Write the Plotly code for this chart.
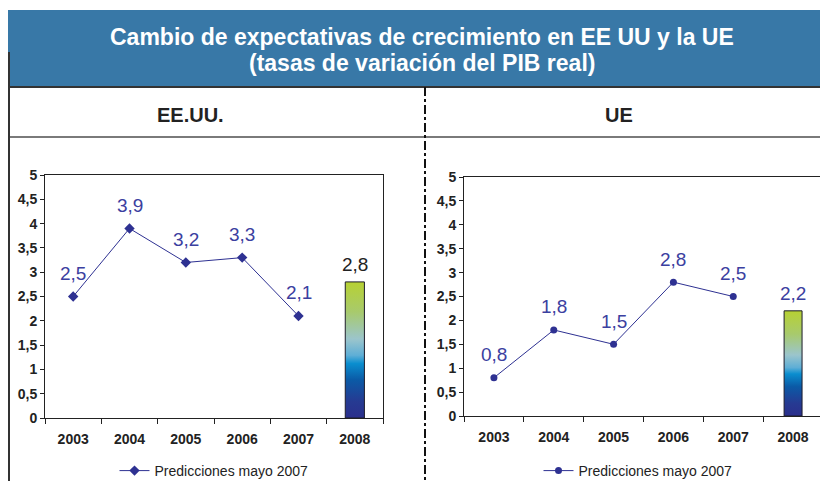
import plotly.graph_objects as go

# ---------------- data ----------------
years = ["2003", "2004", "2005", "2006", "2007", "2008"]
us_forecast = [2.5, 3.9, 3.2, 3.3, 2.1]   # 2003-2007, line
us_2008 = 2.8                             # 2008, bar
eu_forecast = [0.8, 1.8, 1.5, 2.8, 2.5]
eu_2008 = 2.2
y_ticks = [0, 0.5, 1, 1.5, 2, 2.5, 3, 3.5, 4, 4.5, 5]
y_tick_labels = ["0", "0,5", "1", "1,5", "2", "2,5", "3", "3,5", "4", "4,5", "5"]
title_lines = ["Cambio de expectativas de crecimiento en EE UU y la UE",
               "(tasas de variación del PIB real)"]
panel_titles = ["EE.UU.", "UE"]
series_name = "Predicciones mayo 2007"

# ---------------- style ----------------
W, H = 820, 481
FONT = "Liberation Sans, Arial, Helvetica, sans-serif"
LINE_C = "#2e3192"
LABEL_C = "#3b40a0"
AX_C = "#222222"
HEADER_C = "#3878a7"
GRAD = [[0.0, "#2b2f8c"], [0.12, "#263a92"], [0.28, "#0b5aa6"], [0.40, "#0a8ecf"],
        [0.46, "#5eaed6"], [0.58, "#9bc5cc"], [0.78, "#a8ca6c"], [1.0, "#b7d133"]]


def px(x):
    return x / W


def py(y):
    return 1 - y / H


def fmt(v):
    return f"{v:.1f}".replace(".", ",")


panels = [
    dict(vals=us_forecast, bar=us_2008, sym="diamond", msize=8, xd=[px(45), px(383)],
         xr=[-0.5, 5.5], yd=[py(418), py(175)], bw=0.17, mirror_y=True,
         bar_label_c="#222222", legend_x=px(214), title_x=px(190)),
    dict(vals=eu_forecast, bar=eu_2008, sym="circle", msize=7, xd=[px(464), 1.0],
         xr=[-0.5, 5.45], yd=[py(416), py(177)], bw=0.15, mirror_y=False,
         bar_label_c=LABEL_C, legend_x=px(638), title_x=px(619)),
]

fig = go.Figure()
annotations = []
layout_axes = {}

for k, p in enumerate(panels):
    sfx = "" if k == 0 else str(k + 1)
    xa, ya = "x" + sfx, "y" + sfx
    leg = "legend" + sfx
    n = len(p["vals"])
    xs = list(range(n))
    fig.add_trace(go.Scatter(
        x=xs, y=p["vals"], mode="lines+markers", name=series_name,
        line=dict(color=LINE_C, width=1),
        marker=dict(symbol=p["sym"], size=p["msize"], color=LINE_C),
        xaxis=xa, yaxis=ya, legend=leg, showlegend=True, hoverinfo="skip"))
    for i, v in zip(xs, p["vals"]):
        annotations.append(dict(x=i, y=v, xref=xa, yref=ya, text=fmt(v), showarrow=False,
                                yshift=23, font=dict(family=FONT, size=19, color=LABEL_C)))
    # gradient bar for the last year
    bi = len(years) - 1
    bw = p["bw"]
    fig.add_trace(go.Scatter(
        x=[bi - bw, bi + bw, bi + bw, bi - bw, bi - bw],
        y=[0, 0, p["bar"], p["bar"], 0],
        mode="lines", fill="toself",
        fillgradient=dict(type="vertical", colorscale=GRAD),
        line=dict(color="#1c1c2a", width=1),
        xaxis=xa, yaxis=ya, showlegend=False, hoverinfo="skip"))
    annotations.append(dict(x=bi, y=p["bar"], xref=xa, yref=ya, text=fmt(p["bar"]),
                            showarrow=False, yshift=17,
                            font=dict(family=FONT, size=19, color=p["bar_label_c"])))

    layout_axes["xaxis" + sfx] = dict(
        domain=p["xd"], range=p["xr"], anchor=ya,
        tickmode="array", tickvals=list(range(len(years))), ticktext=years, ticks="",
        ticklabelstandoff=8,
        tickfont=dict(family=FONT, size=14, color=AX_C, weight="bold"),
        showline=True, linecolor=AX_C, linewidth=1, mirror=True,
        showgrid=False, zeroline=False, fixedrange=True,
        minor=dict(tickmode="array", tickvals=[i - 0.5 for i in range(len(years) + 1)],
                   ticks="outside", ticklen=5, tickcolor=AX_C, tickwidth=1, showgrid=False))
    layout_axes["yaxis" + sfx] = dict(
        domain=p["yd"], range=[0, 5], anchor=xa,
        tickmode="array", tickvals=y_ticks, ticktext=y_tick_labels,
        ticks="outside", ticklen=4, tickcolor=AX_C,
        tickfont=dict(family=FONT, size=14, color=AX_C, weight="bold"),
        showline=True, linecolor=AX_C, linewidth=1, mirror=p["mirror_y"],
        showgrid=False, zeroline=False, fixedrange=True)
    layout_axes[leg] = dict(
        x=p["legend_x"], y=py(471), xanchor="center", yanchor="middle",
        xref="container", yref="container",
        orientation="h", bgcolor="rgba(0,0,0,0)", itemwidth=30,
        font=dict(family=FONT, size=14, color=AX_C))
    annotations.append(dict(x=p["title_x"], y=py(115), xref="paper", yref="paper",
                            text=panel_titles[k], showarrow=False, xanchor="center",
                            yanchor="middle",
                            font=dict(family=FONT, size=20, color="#222222", weight="bold")))

# header title
for j, t in enumerate(title_lines):
    annotations.append(dict(x=px(422), y=py(37 + 26 * j), xref="paper", yref="paper",
                            text=t, showarrow=False, xanchor="center", yanchor="middle",
                            font=dict(family=FONT, size=23, color="white", weight="bold")))

shapes = [
    dict(type="rect", xref="paper", yref="paper", x0=px(8), x1=1, y0=py(87), y1=py(10),
         fillcolor=HEADER_C, line=dict(width=0), layer="below"),
    dict(type="line", xref="paper", yref="paper", x0=px(8), x1=1, y0=py(87), y1=py(87),
         line=dict(color="#333333", width=2)),
    dict(type="line", xref="paper", yref="paper", x0=px(9), x1=1, y0=py(137), y1=py(137),
         line=dict(color="#7a7a7a", width=2)),
    dict(type="line", xref="paper", yref="paper", x0=px(9), x1=px(9), y0=py(52), y1=0,
         line=dict(color="#333333", width=2)),
    dict(type="line", xref="paper", yref="paper", x0=px(425), x1=px(425), y0=py(87), y1=0,
         line=dict(color="#111111", width=2, dash="dashdot")),
]

fig.update_layout(
    width=W, height=H, margin=dict(l=0, r=0, t=0, b=0, autoexpand=False),
    paper_bgcolor="white", plot_bgcolor="white",
    font=dict(family=FONT), separators=",.",
    annotations=annotations, shapes=shapes, **layout_axes)

fig.write_html("out.html", config={"responsive": False, "displayModeBar": False},
               post_script="document.body.style.margin='0';document.body.style.overflow='hidden';")
